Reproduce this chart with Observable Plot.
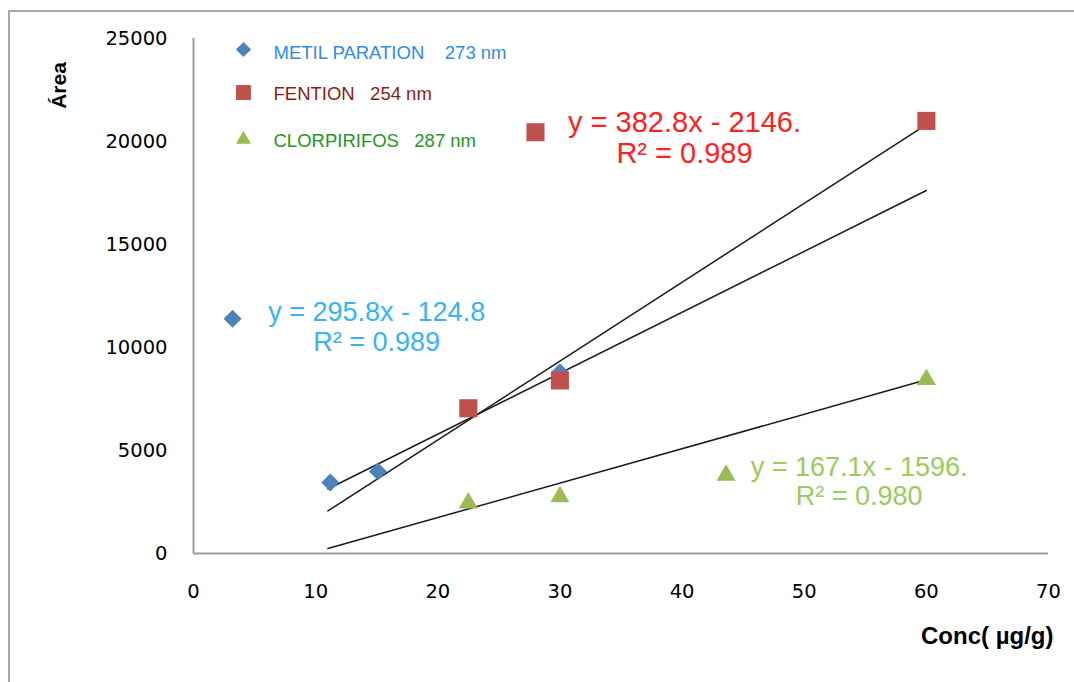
<!DOCTYPE html>
<html>
<head>
<meta charset="utf-8">
<script src="https://cdn.jsdelivr.net/npm/d3@7"></script>
<script src="https://cdn.jsdelivr.net/npm/@observablehq/plot@0.6"></script>
<style>
  html, body { margin: 0; padding: 0; background: #fff; }
  #wrap { position: relative; width: 1074px; height: 682px; overflow: hidden; }
  #frame { position: absolute; left: 8px; top: 10px; width: 1080px; height: 700px;
           border-top: 2px solid #a9a9a9; border-left: 2px solid #a9a9a9; box-sizing: border-box; }
  #chart { position: absolute; left: 0; top: 0; }
</style>
</head>
<body>
<div id="wrap"><div id="frame"></div><div id="chart"></div></div>
<script>
// ---- data ----
const seriesNames = ["METIL PARATION", "FENTION", "CLORPIRIFOS"];
const seriesNm = ["273 nm", "254 nm", "287 nm"];

const metilX = [3.2, 11.2, 15.1, 30];
const metilY = [11400, 3450, 3980, 8800];

const fentionX = [22.5, 28, 30, 60];
const fentionY = [7050, 20450, 8400, 21000];

const clorX = [22.5, 30, 43.6, 60];
const clorY = [2450, 2750, 3800, 8450];

// trendline equations shown on the chart
const trendSlopes = [295.8, 382.8, 167.1];
const trendIntercepts = [-124.8, -2146, -1596];
const trendRange = [11, 60];
const eqTexts = ["y = 295.8x - 124.8\nR² = 0.989", "y = 382.8x - 2146.\nR² = 0.989", "y = 167.1x - 1596.\nR² = 0.980"];
const eqAnchorX = [15.0, 40.2, 54.5];
const eqAnchorY = [11020, 20170, 3520];

const xTicks = [0, 10, 20, 30, 40, 50, 60, 70];
const yTicks = [0, 5000, 10000, 15000, 20000, 25000];

// ---- styles ----
const symbols = ["diamond2", "square", "triangle"];
const fills = ["#4F81BD", "#C0504D", "#9BBB59"];
const markR = [8.1, 10.2, 7.1];
const legR = [6.8, 8.4, 5.6];
const legTextColors = ["#2B8CF2", "#8E1B1B", "#1F961F"];
const eqColors = ["#36B4F4", "#FF2020", "#9ACB5C"];
const eqSizes = [27, 29, 27];
const eqLineHeights = [1.11, 1.07, 1.08];
const legSpaces = ["\u00a0\u00a0\u00a0\u00a0", "\u00a0\u00a0\u00a0", "\u00a0\u00a0\u00a0"];
const legDy = [11, 54, 101];
const legTextDy = [15, 56, 103];

const xs = [metilX, fentionX, clorX];
const ys = [metilY, fentionY, clorY];

const points = [];
xs.forEach((arr, s) => arr.forEach((x, i) => points.push({s, x, y: ys[s][i]})));

const trends = [];
trendSlopes.forEach((m, s) => trendRange.forEach(x => trends.push({s, x, y: m * x + trendIntercepts[s]})));

const marks = [
  Plot.ruleX([0], {stroke: "#9a9a9a", strokeWidth: 2}),
  Plot.ruleY([0], {stroke: "#9a9a9a", strokeWidth: 2}),
  Plot.axisX({ticks: xTicks, tickSize: 0, tickPadding: 31, tickFormat: d => String(d),
    fontSize: 19.5, fontFamily: "DejaVu Sans", fill: "#000", label: null}),
  Plot.axisY({ticks: yTicks, tickSize: 0, tickPadding: 26, tickFormat: d => String(d),
    fontSize: 19.5, fontFamily: "DejaVu Sans", fill: "#000", label: null}),
  Plot.line(trends, {x: "x", y: "y", z: "s", stroke: "#1a1a1a", strokeWidth: 1.5})
];

[0, 1, 2].forEach(s => {
  marks.push(Plot.dot(points.filter(p => p.s === s), {
    x: "x", y: "y", symbol: () => symbols[s], r: markR[s], fill: fills[s], stroke: "none"
  }));
});

[0, 1, 2].forEach(s => {
  marks.push(Plot.text([eqTexts[s]], {
    x: () => eqAnchorX[s], y: () => eqAnchorY[s], text: d => d,
    fill: eqColors[s], fontSize: eqSizes[s], fontFamily: "Liberation Sans, Arial, sans-serif",
    textAnchor: "middle", lineAnchor: "middle", lineHeight: eqLineHeights[s]
  }));
  // legend
  marks.push(Plot.dot([seriesNames[s]], {
    frameAnchor: "top-left", dx: 50, dy: legDy[s], symbol: () => symbols[s], r: legR[s], fill: fills[s], stroke: "none"
  }));
  marks.push(Plot.text([seriesNames[s] + legSpaces[s] + seriesNm[s]], {
    frameAnchor: "top-left", dx: 80, dy: legTextDy[s], text: d => d, textAnchor: "start", lineAnchor: "middle",
    fill: legTextColors[s], fontSize: 18.5, fontFamily: "Liberation Sans, Arial, sans-serif"
  }));
});

// axis titles
marks.push(Plot.text(["Conc( µg/g)"], {
  frameAnchor: "bottom-right", dx: 5, dy: 83, text: d => d, textAnchor: "end", lineAnchor: "middle",
  fontSize: 24, fontWeight: "bold", fontFamily: "Liberation Sans, Arial, sans-serif", fill: "#000"
}));
marks.push(Plot.text(["Área"], {
  frameAnchor: "top-left", dx: -134, dy: 47, text: d => d, rotate: -90, textAnchor: "middle", lineAnchor: "middle",
  fontSize: 21, fontWeight: "bold", fontFamily: "Liberation Sans, Arial, sans-serif", fill: "#000"
}));

const chart = Plot.plot({
  width: 1074,
  height: 682,
  marginLeft: 193,
  marginRight: 26,
  marginTop: 38,
  marginBottom: 129,
  style: {background: "transparent", overflow: "visible"},
  x: {domain: [0, 70]},
  y: {domain: [0, 25000]},
  marks
});
document.getElementById("chart").appendChild(chart);
</script>
</body>
</html>
